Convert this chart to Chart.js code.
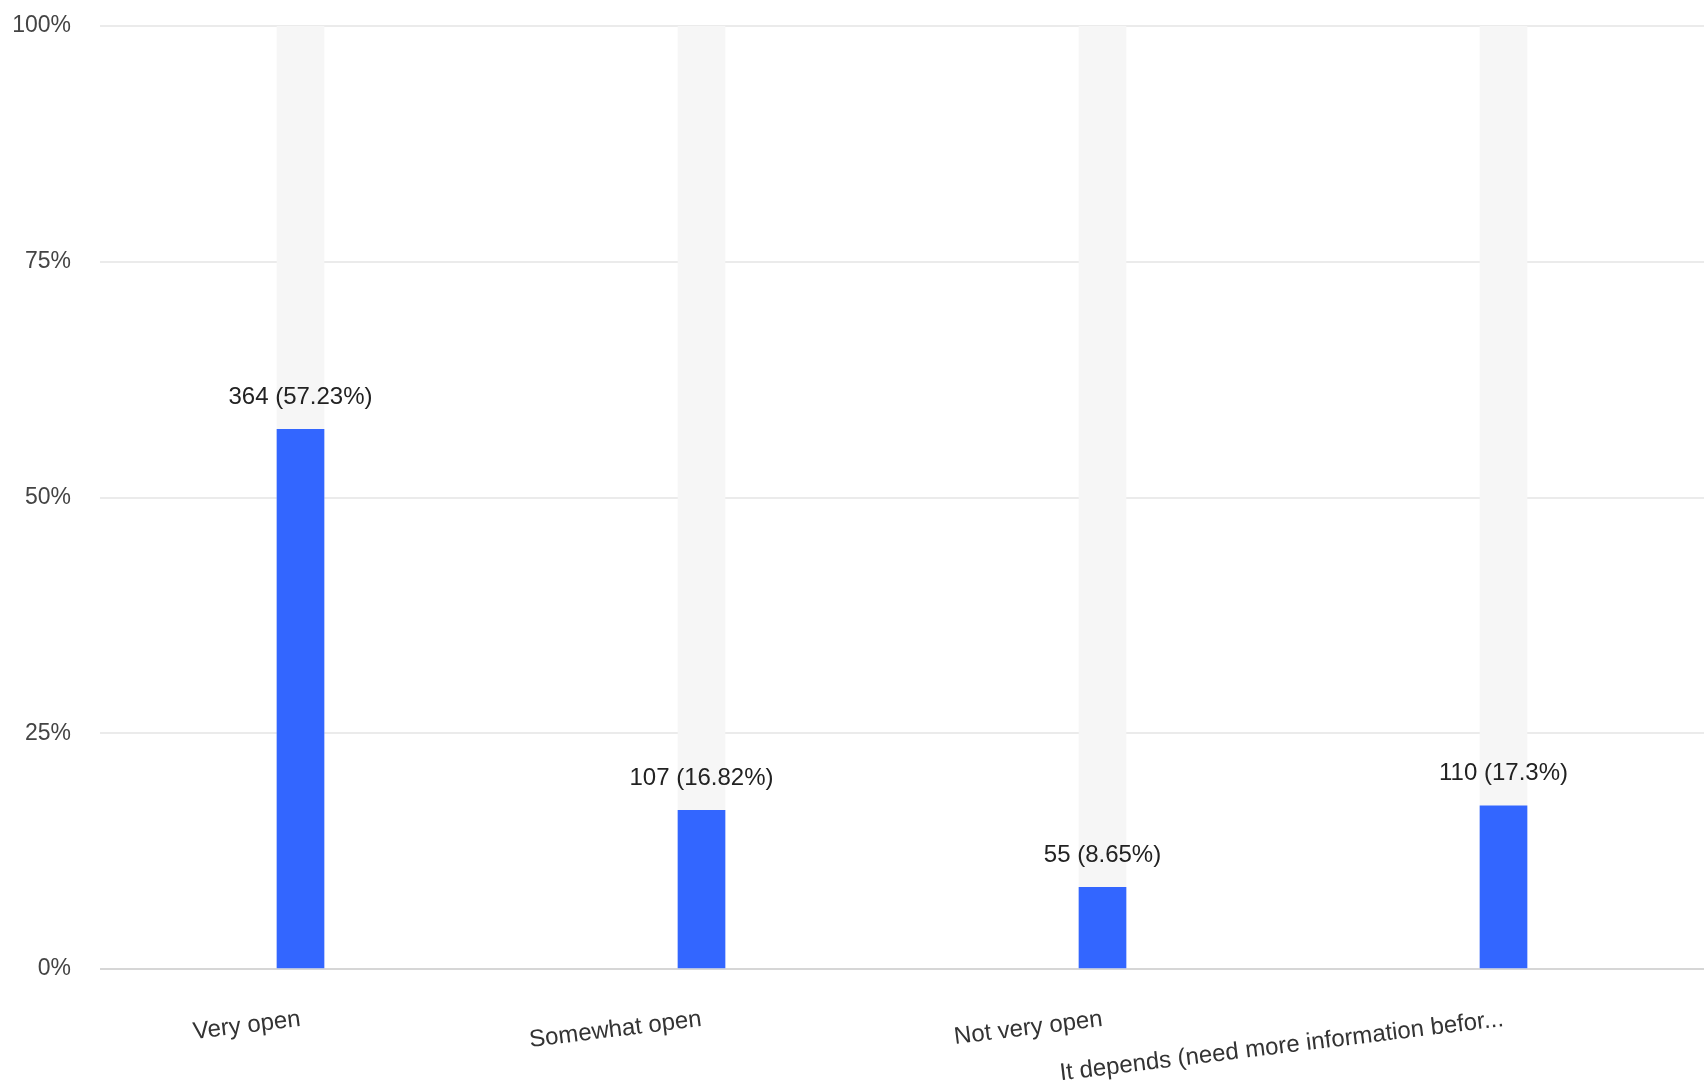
<!DOCTYPE html>
<html>
<head>
<meta charset="utf-8">
<script src="https://cdn.jsdelivr.net/npm/chart.js@4/dist/chart.umd.min.js"></script>
<style>
  html, body { margin: 0; padding: 0; background: #fff; }
  #wrap { width: 1704px; height: 1083px; }
</style>
</head>
<body>
<div id="wrap"><canvas id="chart" width="1704" height="1083"></canvas></div>
<script>
const categorias = ['Very open', 'Somewhat open', 'Not very open', 'It depends (need more information befor...'];
const respostas = [364, 107, 55, 110];
const percentuais = [57.23, 16.82, 8.65, 17.3];
const fundo = [100, 100, 100, 100];
const ticksY = [0, 25, 50, 75, 100];

const fonte = 'Arial, "Liberation Sans", sans-serif';

const rotulosPlugin = {
    id: 'rotulos',
    afterDatasetsDraw(chart) {
        const ctx = chart.ctx;
        const meta = chart.getDatasetMeta(0);
        ctx.save();
        ctx.font = '24px ' + fonte;
        ctx.fillStyle = '#222';
        ctx.textAlign = 'center';
        ctx.textBaseline = 'middle';
        meta.data.forEach(function(bar, i) {
            ctx.fillText(`${respostas[i]} (${percentuais[i]}%)`, bar.x, bar.y - 32);
        });
        ctx.restore();
    }
};

new Chart(document.getElementById('chart').getContext('2d'), {
    type: 'bar',
    data: {
        labels: categorias,
        datasets: [{
            data: percentuais,
            backgroundColor: '#3366ff',
            grouped: false,
            barThickness: 47
        }, {
            data: fundo,
            backgroundColor: '#f6f6f6',
            grouped: false,
            barThickness: 47
        }]
    },
    options: {
        responsive: false,
        animation: false,
        layout: { padding: { top: 0, left: 0, bottom: 0, right: -6 } },
        plugins: {
            legend: { display: false },
            tooltip: { enabled: false }
        },
        scales: {
            x: {
                grid: { display: false, drawTicks: false },
                border: { display: false },
                ticks: {
                    autoSkip: false,
                    minRotation: 7,
                    maxRotation: 7,
                    padding: 36,
                    color: '#333',
                    font: { family: fonte, size: 24 }
                },
                afterFit: function(scale) {
                    scale.height = 114;
                    scale.paddingRight = -6;
                }
            },
            y: {
                min: 0,
                max: 100,
                afterBuildTicks: function(scale) {
                    scale.ticks = ticksY.map(v => ({ value: v }));
                },
                grid: {
                    drawTicks: false,
                    color: ctx => ctx.index === 0 ? '#d6d6d6' : '#ebebeb',
                    lineWidth: 2
                },
                border: { display: false },
                ticks: {
                    padding: 29,
                    color: '#444',
                    font: { family: fonte, size: 23 },
                    callback: v => v + '%'
                },
                afterFit: function(scale) {
                    scale.width = 100;
                    scale.paddingTop = 26;
                    scale.paddingBottom = 0;
                }
            }
        }
    },
    plugins: [rotulosPlugin]
});
</script>
</body>
</html>
